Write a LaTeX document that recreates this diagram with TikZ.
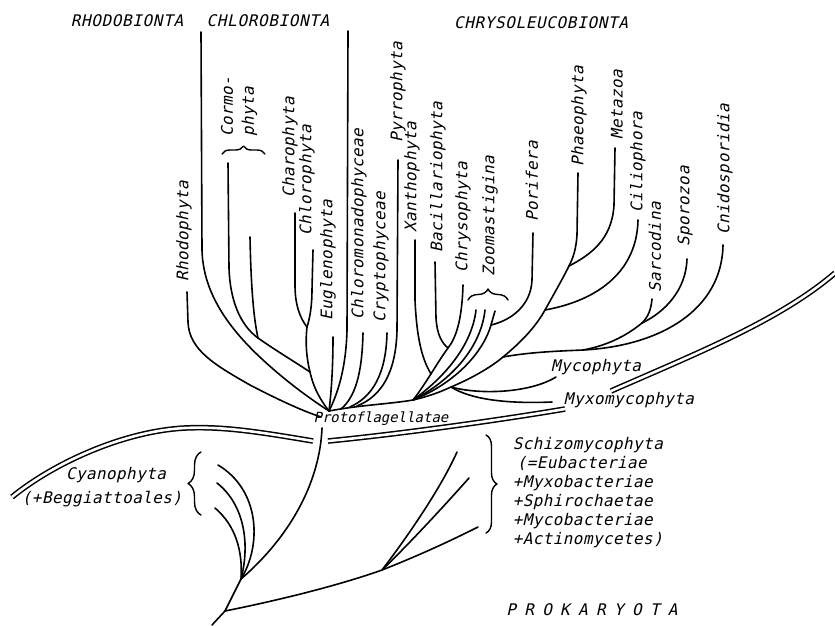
\documentclass[tikz,border=0pt]{standalone}
\usepackage{fontspec}
\usetikzlibrary{decorations.pathreplacing}
\newfontfamily\labfont[LetterSpace=2.5,FakeSlant=0.22]{DejaVu Sans Mono}
\newfontfamily\hdrfont[LetterSpace=4,FakeSlant=0.22]{DejaVu Sans Mono}
\newfontfamily\prkfont[LetterSpace=52,FakeSlant=0.22]{DejaVu Sans Mono}
\newfontfamily\protofont[FakeSlant=0.22]{DejaVu Sans Mono}
\begin{document}
\begin{tikzpicture}[x=1pt,y=-1pt,line width=1.6pt,line cap=round,line join=round,
  lbl/.style={font=\labfont\fontsize{16}{19}\selectfont,inner sep=0pt},
  vlbl/.style={lbl,rotate=90,anchor=west},
  hdr/.style={font=\hdrfont\fontsize{16}{19}\selectfont,inner sep=0pt},
  br/.style={decorate,decoration={brace,amplitude=8pt},line width=1.4pt},
  dbl/.style={double distance=2.6pt,line width=1.5pt,line cap=butt}]
\useasboundingbox (0,0) rectangle (835,625);

% headings
\node[hdr] (hRho) at (127,21) {RHODOBIONTA};
\node[hdr] (hChl) at (268,21) {CHLOROBIONTA};
\node[hdr] (hChr) at (541,23) {CHRYSOLEUCOBIONTA};

% vertical labels
\node[vlbl] (lRho) at (184,282) {Rhodophyta};
\node[vlbl,align=left,font=\labfont\fontsize{16}{21}\selectfont] (lCor) at (239,137) {Cormo-\\phyta};
\node[vlbl] (lCha) at (290,198) {Charophyta};
\node[vlbl] (lChl) at (307,236) {Chlorophyta};
\node[vlbl] (lEug) at (328,321) {Euglenophyta};
\node[vlbl] (lCmd) at (359,320) {Chloromonadophyceae};
\node[vlbl] (lCry) at (381,323) {Cryptophyceae};
\node[vlbl] (lPyr) at (398,143) {Pyrrophyta};
\node[vlbl] (lXan) at (412,233) {Xanthophyta};
\node[vlbl] (lBac) at (438,253) {Bacillariophyta};
\node[vlbl] (lChr) at (463,273) {Chrysophyta};
\node[vlbl] (lZoo) at (490,277) {Zoomastigina};
\node[vlbl] (lPor) at (532,222) {Porifera};
\node[vlbl] (lPha) at (579,167) {Phaeophyta};
\node[vlbl] (lMet) at (617,140) {Metazoa};
\node[vlbl] (lCil) at (638,213) {Ciliophora};
\node[vlbl] (lSar) at (655,293) {Sarcodina};
\node[vlbl] (lSpo) at (685,247) {Sporozoa};
\node[vlbl] (lCni) at (725,235) {Cnidosporidia};

% horizontal labels
\node[lbl] (lMyc) at (596,367) {Mycophyta};
\node[lbl] (lMyx) at (629,400) {Myxomycophyta};
\node[lbl] (lCya) at (116,475) {Cyanophyta};
\node[lbl] (lBeg) at (102,499) {(+Beggiattoales)};
\node[lbl,align=left,anchor=north west] (lSch) at (512,437)
  {Schizomycophyta\\\hspace*{4pt}(=Eubacteriae\\+Myxobacteriae\\+Sphirochaetae\\+Mycobacteriae\\+Actinomycetes)};
\node[font=\protofont\fontsize{14}{16}\selectfont,inner sep=0pt] (lPro) at (381,419) {Protoflagellatae};
\node[font=\prkfont\fontsize{16}{19}\selectfont,inner sep=0pt] (lPrk) at (592,610) {PROKARYOTA};

% junctions and tips
\coordinate (J0) at (329,411);
\coordinate (CJ2) at (413,400);
\coordinate (MJ) at (451,387);
\coordinate (SJ) at (503,357);
\coordinate (CiJ) at (545,310);
\coordinate (PMJ) at (569,266);
\coordinate (SSJ) at (583,350);
\coordinate (SaJ) at (642,323);
\coordinate (CorJ) at (258,338);
\coordinate (ChaJ) at (307,327);
\coordinate (GJ) at (310,372);
\coordinate (BacJ) at (448,348);
\coordinate (PorJ) at (491,325);
\coordinate (trT) at (322,428);
\coordinate (cyJ) at (241,579);
\coordinate (prJ) at (225,611);
\coordinate (trB) at (212,625);
\coordinate (bJ) at (382,570);

\coordinate (rhoT) at (187,292);
\coordinate (rhoE) at (321,417);
\coordinate (chlT) at (201,32);
\coordinate (cmL) at (228,163);
\coordinate (cmR) at (250,237);
\coordinate (chaT) at (295,213);
\coordinate (chlT2) at (313,250);
\coordinate (eugT) at (333,337);
\coordinate (lngT) at (348,31);
\coordinate (cmdT) at (363,333);
\coordinate (cryT) at (387,333);
\coordinate (pyrT) at (398,160);
\coordinate (cmdE) at (341,409);
\coordinate (cryE) at (350,407);
\coordinate (pyrE) at (357,406);
\coordinate (xanT) at (415,240);
\coordinate (xanE) at (431,374);
\coordinate (bacT) at (435,262);
\coordinate (chrT) at (463,285);
\coordinate (z1) at (476,310);
\coordinate (z2) at (485,310);
\coordinate (z3) at (495,311);
\coordinate (porT) at (533,233);
\coordinate (phaT) at (578,173);
\coordinate (metT) at (615,148);
\coordinate (cilT) at (638,220);
\coordinate (sarT) at (652,299);
\coordinate (spoT) at (687,259);
\coordinate (cniT) at (723,245);
\coordinate (mycE) at (556,377);
\coordinate (myxE) at (552,402);
\coordinate (cyA) at (218,465);
\coordinate (cyB) at (217,483);
\coordinate (cyC) at (215,508);
\coordinate (pk1) at (457,452);
\coordinate (pk2) at (469,478);
\coordinate (pk3) at (478,527);
\coordinate (dlA) at (313,441);
\coordinate (dlB) at (12,497);
\coordinate (dmA) at (328,441);
\coordinate (dmB) at (565,409);
\coordinate (drA) at (611,391);
\coordinate (drB) at (835,273);

% Rhodobionta / Chlorobionta
\draw (rhoT) -- (188,322) .. controls (189,350) and (215,365) .. (250,385) .. controls (275,398) and (300,410) .. (rhoE);
\draw (chlT) -- (202,250) .. controls (203,290) and (225,325) .. (263,360) .. controls (288,383) and (312,400) .. (J0);
\draw (cmL) -- (229,268) .. controls (230,300) and (240,325) .. (CorJ);
\draw (cmR) .. controls (251,290) and (254,320) .. (CorJ);
\draw (CorJ) .. controls (275,350) and (295,362) .. (GJ);
\draw (chaT) -- (295,285) .. controls (295,305) and (300,318) .. (ChaJ);
\draw (chlT2) -- (312,290) .. controls (312,305) and (310,318) .. (ChaJ);
\draw (ChaJ) .. controls (305,345) and (307,360) .. (GJ) .. controls (314,390) and (322,402) .. (J0);
\draw (eugT) .. controls (333,370) and (331,395) .. (J0);
\draw (lngT) -- (347,330) .. controls (346,370) and (337,395) .. (J0);
\draw (cmdT) .. controls (362,375) and (355,397) .. (cmdE);
\draw (cryT) .. controls (386,375) and (372,397) .. (cryE);
\draw (pyrT) -- (397,330) .. controls (396,372) and (382,396) .. (pyrE);

% main Chrysoleucobionta line
\draw (J0) .. controls (360,405) and (390,404) .. (CJ2) .. controls (430,396) and (440,392) .. (MJ)
  .. controls (470,379) and (490,368) .. (SJ) .. controls (520,343) and (535,328) .. (CiJ)
  .. controls (555,292) and (562,280) .. (PMJ);
\draw (chrT) .. controls (462,320) and (456,338) .. (BacJ) .. controls (437,363) and (425,385) .. (CJ2);
\draw (bacT) -- (436,318) .. controls (437,335) and (442,343) .. (BacJ);
\draw (xanT) -- (415,300) .. controls (417,345) and (424,362) .. (xanE);
\draw (z1) .. controls (472,345) and (445,377) .. (CJ2);
\draw (z2) .. controls (481,347) and (452,380) .. (CJ2);
\draw (z3) -- (PorJ) .. controls (484,350) and (458,382) .. (CJ2);
\draw (porT) -- (532,280) .. controls (531,305) and (512,320) .. (PorJ);
\draw (MJ) .. controls (480,395) and (530,393) .. (mycE);
\draw (MJ) .. controls (470,399) and (505,404) .. (myxE);
\draw (SJ) .. controls (530,352) and (560,351) .. (SSJ);
\draw (cniT) .. controls (722,310) and (660,346) .. (SSJ);
\draw (sarT) .. controls (651,310) and (648,317) .. (SaJ);
\draw (spoT) .. controls (686,290) and (665,312) .. (SaJ);
\draw (SaJ) .. controls (625,337) and (605,346) .. (SSJ);
\draw (cilT) .. controls (637,270) and (600,300) .. (CiJ);
\draw (phaT) -- (577,235) .. controls (576,250) and (573,258) .. (PMJ);
\draw (metT) -- (614,205) .. controls (612,240) and (590,255) .. (PMJ);

% Prokaryota
\draw (trT) .. controls (320,480) and (292,535) .. (cyJ) -- (prJ) -- (trB);
\draw (cyA) .. controls (260,490) and (262,545) .. (cyJ);
\draw (cyB) .. controls (245,505) and (250,545) .. (cyJ);
\draw (cyC) .. controls (235,525) and (243,550) .. (cyJ);
\draw (prJ) .. controls (280,600) and (340,585) .. (bJ) .. controls (420,555) and (450,541) .. (pk3);
\draw (bJ) .. controls (405,540) and (440,490) .. (pk1);
\draw (bJ) .. controls (410,543) and (445,505) .. (pk2);

% double lines
\draw[dbl] (dlA) .. controls (265,433) and (225,426) .. (185,428) .. controls (125,431) and (55,462) .. (dlB);
\draw[dbl] (dmA) .. controls (400,434) and (500,420) .. (dmB);
\draw[dbl] (drA) .. controls (700,352) and (780,320) .. (drB);

% braces
\draw[br] (222,154) -- (265,154);
\draw[br,decoration={amplitude=11pt}] (468,300) -- (508,300);
\draw[br,decoration={amplitude=13pt}] (201,515) -- (201,452);
\draw[br,decoration={amplitude=11pt}] (486,435) -- (486,533);
\end{tikzpicture}
\end{document}
